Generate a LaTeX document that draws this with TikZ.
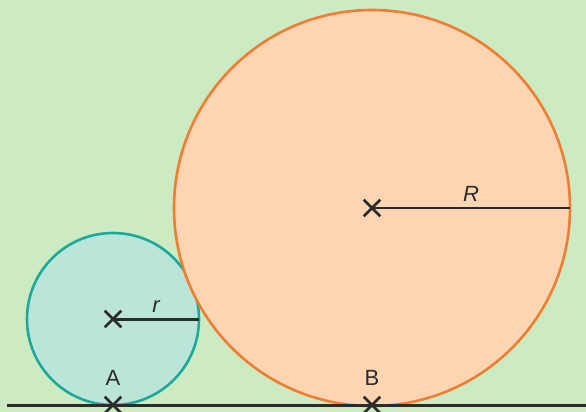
\documentclass[tikz,border=0pt]{standalone}
\usepackage{fontspec}
\setmainfont{Liberation Sans}
\usetikzlibrary{positioning,shapes.misc}
\definecolor{bggreen}{HTML}{CDEBC3}
\definecolor{tealfill}{HTML}{BCE5DA}
\definecolor{tealline}{HTML}{1AA99A}
\definecolor{orangefill}{HTML}{FCD5B2}
\definecolor{orangeline}{HTML}{EF7E32}
\definecolor{inkgrey}{HTML}{2B2B2B}

\begin{document}
\begin{tikzpicture}[
  x=1pt,y=-1pt,
  crossmark/.style={cross out,draw=inkgrey,line width=2.6pt,minimum size=14pt,inner sep=0pt},
  lbl/.style={font=\fontsize{22}{24}\selectfont,text=inkgrey},
  radius line/.style={draw=inkgrey}
]
\fill[bggreen] (0,0) rectangle (586,412);
\useasboundingbox (0,0) rectangle (586,412);
% centres and contact points
\coordinate (o) at (113,319);
\coordinate (O) at (372,208);
\coordinate (pA) at (113,405);
\coordinate (pB) at (372,405);
\coordinate (rend) at (199,319);
\coordinate (Rend) at (570,208);
\coordinate (lineL) at (7,405);
\coordinate (lineR) at (586,405);
% circles
\filldraw[fill=tealfill,draw=tealline,line width=2.6pt] (o) circle[radius=86];
\filldraw[fill=orangefill,draw=orangeline,line width=2.6pt] (O) circle[radius=198];
% ground line
\draw[inkgrey,line width=3pt] (lineL) -- (lineR);
% marks
\node[crossmark] (oc) at (o) {};
\node[crossmark] (Oc) at (O) {};
\node[crossmark] (Ac) at (pA) {};
\node[crossmark] (Bc) at (pB) {};
% radii
\draw[radius line,line width=3pt] (oc.center) -- node[lbl,above=2pt,pos=0.5] (rlab) {\itshape r} (rend);
\draw[radius line,line width=1.8pt] (Oc.center) -- node[lbl,above=2pt,pos=0.5] (Rlab) {\itshape R} (Rend);
% points
\node[lbl,above=8pt of Ac] (A) {A};
\node[lbl,above=8pt of Bc] (B) {B};
\end{tikzpicture}
\end{document}
